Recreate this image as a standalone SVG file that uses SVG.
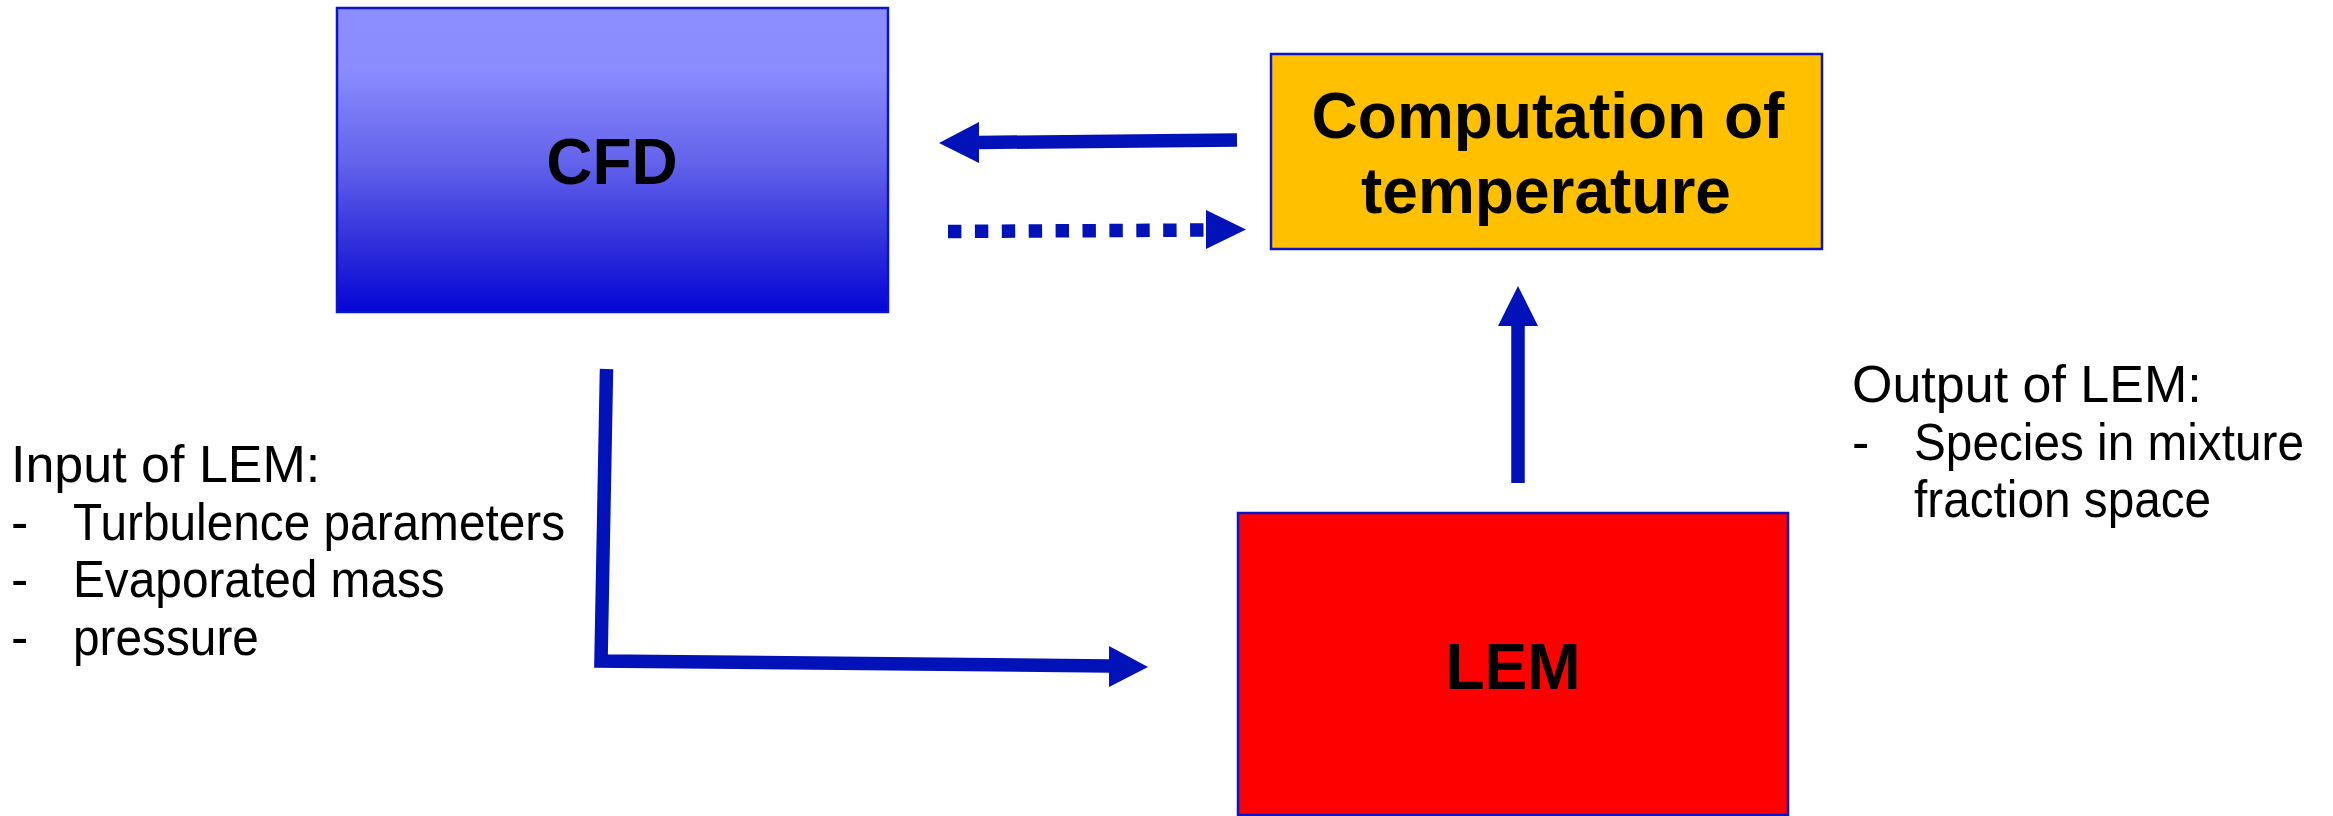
<svg xmlns="http://www.w3.org/2000/svg" width="2333" height="816" viewBox="0 0 2333 816">
<style>
.box{stroke:#0a14c8;stroke-width:2.5}
.title{font-family:"Liberation Sans",Arial,sans-serif;font-weight:bold;font-size:64px;fill:#000;text-anchor:middle}
.lbl{font-family:"Liberation Sans",Arial,sans-serif;font-size:52px;fill:#000}
.conn{stroke:#0012b8;fill:none;stroke-width:13.5}
.head{fill:#0012b8}
</style>
<defs>
<linearGradient id="cfdGrad" x1="0" y1="0" x2="0" y2="1">
<stop offset="0" stop-color="#8c8eff"/>
<stop offset="0.2" stop-color="#8a8cfd"/>
<stop offset="0.5" stop-color="#6464ec"/>
<stop offset="0.75" stop-color="#3434dc"/>
<stop offset="1" stop-color="#0505d6"/>
</linearGradient>
</defs>
<rect width="2333" height="816" fill="#fff"/>
<g id="cfd">
<rect class="box" x="337" y="8" width="551" height="304" fill="url(#cfdGrad)"/>
<text class="title" x="612" y="184">CFD</text>
</g>
<g id="computation">
<rect class="box" x="1271" y="54" width="551" height="195" fill="#ffc000"/>
<text class="title" x="1548" y="138">Computation of</text>
<text class="title" x="1546" y="213">temperature</text>
</g>
<g id="lem">
<rect class="box" x="1238" y="513" width="550" height="302" fill="#ff0000"/>
<text class="title" x="1513" y="689">LEM</text>
</g>
<g id="input-label">
<text class="lbl" x="11" y="482">Input of LEM:</text>
<text class="lbl" x="11" y="540">-</text><text class="lbl" transform="translate(73,540) scale(0.919,1)">Turbulence parameters</text>
<text class="lbl" x="11" y="597">-</text><text class="lbl" transform="translate(73,597) scale(0.919,1)">Evaporated mass</text>
<text class="lbl" x="11" y="655">-</text><text class="lbl" transform="translate(73,655) scale(0.919,1)">pressure</text>
</g>
<g id="output-label">
<text class="lbl" x="1852" y="402">Output of LEM:</text>
<text class="lbl" x="1852" y="460">-</text><text class="lbl" transform="translate(1914,460) scale(0.918,1)">Species in mixture</text>
<text class="lbl" transform="translate(1914,517) scale(0.918,1)">fraction space</text>
</g>
<g id="connectors">
<path class="conn" d="M1237 140 L979 142.5"/>
<polygon class="head" points="939,143 979,122 979,163"/>
<path class="conn" d="M948 231.5 L1204 230" stroke-dasharray="13.4 13.5" stroke-width="14"/>
<polygon class="head" points="1246,229.5 1206,210 1206,249"/>
<path class="conn" d="M1518 483 L1518 325" stroke-width="14"/>
<polygon class="head" points="1518,286 1498,326 1538,326"/>
<path class="conn" d="M606.5 369 L601 661 L1110 666" stroke-width="13"/>
<polygon class="head" points="1148,667 1109,646 1109,687"/>
</g>
</svg>
